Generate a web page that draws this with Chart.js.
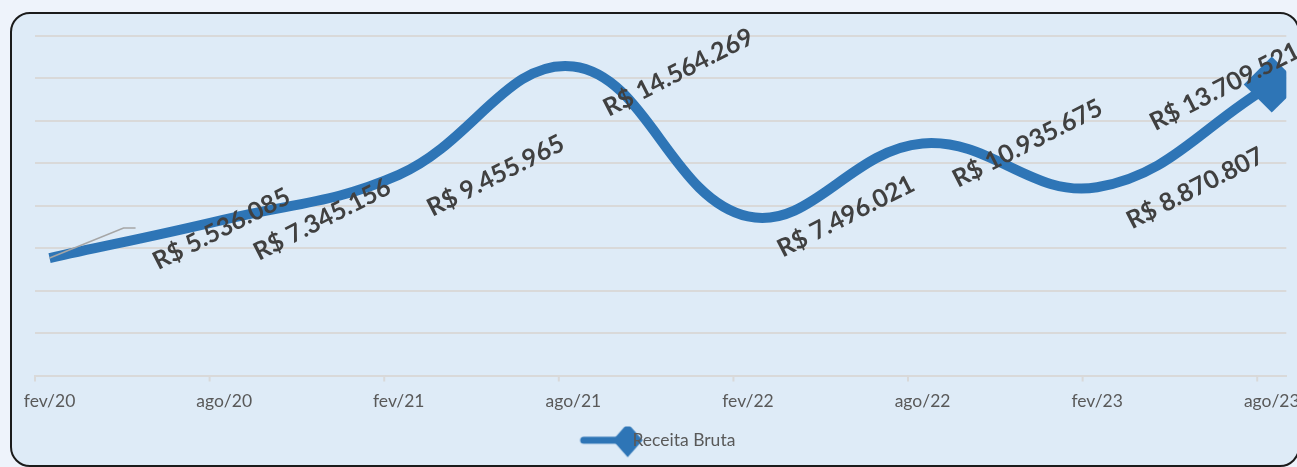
<!DOCTYPE html>
<html lang="pt-BR">
  <head>
    <meta charset="UTF-8" />
    <title>Receita Bruta</title>
    <script src="https://cdn.jsdelivr.net/npm/chart.js"></script>
    <style>
      html, body { margin: 0; padding: 0; overflow: hidden; }
      body { width: 1297px; height: 467px; background: #eef3fb; position: relative; }
      .frame {
        position: absolute; left: 10px; top: 12px; width: 1290px; height: 455px;
        box-sizing: border-box; border: 2px solid #1b1b1b; border-radius: 20px;
        background: #deebf7;
      }
      #chart { position: absolute; left: 0; top: 0; }
    </style>
  </head>
  <body>
    <div class="frame"></div>
    <canvas id="chart" width="1315" height="480"></canvas>
    <script>
      // dados
      const categories = ["fev/20", "ago/20", "fev/21", "ago/21", "fev/22", "ago/22", "fev/23", "ago/23"];
      const values = [5536085, 7345156, 9455965, 14564269, 7496021, 10935675, 8870807, 13709521];
      const yTicks = [0, 2000000, 4000000, 6000000, 8000000, 10000000, 12000000, 14000000, 16000000];
      // deslocamento dos rotulos em relacao ao ponto (px)
      const labelOffsets = [[172, -29], [98, 0], [97, 1], [105, 6], [98, 0], [105, 0], [98, 1], [-47, 2]];

      const blue = "#2e75b6";

      function brl(v) {
        return "R$ " + String(v).replace(/\B(?=(\d{3})+(?!\d))/g, ".");
      }

      // simbolo da legenda: linha + losango
      const legendIcon = document.createElement("canvas");
      legendIcon.width = 110;
      legendIcon.height = 40;
      (function () {
        const c = legendIcon.getContext("2d");
        c.strokeStyle = blue;
        c.lineWidth = 7;
        c.lineCap = "round";
        c.beginPath();
        c.moveTo(25, 20);
        c.lineTo(69, 20);
        c.stroke();
        c.fillStyle = blue;
        c.beginPath();
        c.moveTo(69, 3);
        c.lineTo(84, 20);
        c.lineTo(69, 37);
        c.lineTo(54, 20);
        c.closePath();
        c.fill();
      })();

      // marcas do eixo x nos inicios de semestre
      const axisMarks = {
        id: "axisMarks",
        afterDraw(chart) {
          const ctx = chart.ctx;
          const x = chart.scales.x;
          const bottom = chart.chartArea.bottom;
          ctx.save();
          ctx.strokeStyle = "#d9d9d9";
          ctx.lineWidth = 2;
          categories.forEach((c, i) => {
            const px = x.getPixelForValue(i * 6);
            ctx.beginPath();
            ctx.moveTo(px, bottom);
            ctx.lineTo(px, bottom + 6);
            ctx.stroke();
          });
          ctx.restore();
        },
      };

      const valueLabels = {
        id: "valueLabels",
        afterDatasetsDraw(chart) {
          const ctx = chart.ctx;
          const pts = chart.getDatasetMeta(0).data;
          ctx.save();
          // linha guia do primeiro rotulo
          ctx.strokeStyle = "#a6a6a6";
          ctx.lineWidth = 1.5;
          ctx.beginPath();
          ctx.moveTo(pts[0].x, pts[0].y);
          ctx.lineTo(pts[0].x + 74, pts[0].y - 30);
          ctx.lineTo(pts[0].x + 86, pts[0].y - 30);
          ctx.stroke();

          ctx.font = "bold 25px Lato";
          ctx.fillStyle = "#404040";
          ctx.textAlign = "center";
          ctx.textBaseline = "middle";
          pts.forEach((p, i) => {
            ctx.save();
            ctx.translate(p.x + labelOffsets[i][0], p.y + labelOffsets[i][1]);
            ctx.rotate((-27 * Math.PI) / 180);
            ctx.fillText(brl(values[i]), 0, 0);
            ctx.restore();
          });
          ctx.restore();
        },
      };

      const ctx = document.getElementById("chart").getContext("2d");
      const chart = new Chart(ctx, {
        type: "line",
        data: {
          datasets: [
            {
              label: "Receita Bruta",
              // meio do mes: fev/20 = 0
              data: values.map((v, i) => ({ x: i * 6 + 0.5, y: v })),
              borderColor: blue,
              backgroundColor: blue,
              borderWidth: 10,
              tension: 0.4,
              pointStyle: "rectRot",
              pointRadius: values.map((v, i) => (i === values.length - 1 ? 28 : 0)),
              pointBorderWidth: 0,
              clip: 0,
            },
          ],
        },
        options: {
          responsive: false,
          animation: false,
          layout: { padding: { left: 35, right: 11, top: 36, bottom: 21 } },
          scales: {
            x: {
              type: "linear",
              min: 0,
              max: 43,
              afterBuildTicks: (s) => { s.ticks = categories.map((c, i) => ({ value: i * 6 + 0.5 })); },
              grid: { display: false, drawTicks: false },
              border: { color: "#d9d9d9", width: 2 },
              ticks: {
                autoSkip: false,
                maxRotation: 0,
                padding: 15,
                color: "#595959",
                font: { family: "Lato", size: 17.5 },
                callback: (v) => categories[Math.round((v - 0.5) / 6)],
              },
            },
            y: {
              min: yTicks[0],
              max: yTicks[yTicks.length - 1],
              afterBuildTicks: (s) => { s.ticks = yTicks.map((v) => ({ value: v })); },
              grid: { color: "#d9d9d9", lineWidth: 2, drawTicks: false },
              border: { display: false },
              ticks: { display: false },
            },
          },
          plugins: {
            tooltip: { enabled: false },
            legend: {
              position: "bottom",
              labels: {
                usePointStyle: true,
                pointStyleWidth: 20,
                padding: 5,
                color: "#595959",
                font: { family: "Lato", size: 17.5 },
                generateLabels: (chart) => [
                  {
                    text: "Receita Bruta",
                    pointStyle: legendIcon,
                    fillStyle: blue,
                    strokeStyle: blue,
                    lineWidth: 0,
                    fontColor: "#595959",
                    datasetIndex: 0,
                  },
                ],
              },
            },
          },
        },
        plugins: [valueLabels, axisMarks],
      });
    </script>
  </body>
</html>
